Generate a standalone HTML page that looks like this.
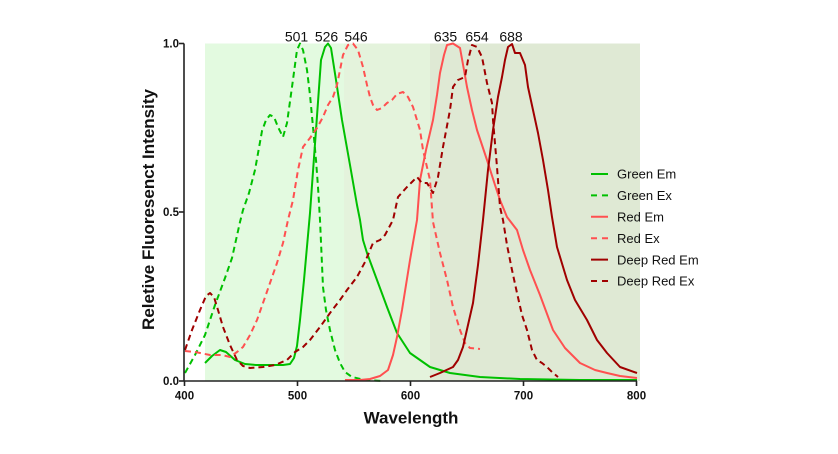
<!DOCTYPE html>
<html><head><meta charset="utf-8"><style>
html,body{margin:0;padding:0;background:#fff;}
svg{display:block;}
text{font-family:"Liberation Sans",Arial,sans-serif;fill:#111;}
</style></head><body>
<svg width="838" height="454" viewBox="0 0 838 454" xmlns="http://www.w3.org/2000/svg">
<!-- shaded regions -->
<rect x="205" y="43.5" width="139" height="337.5" fill="#e3fae0"/>
<rect x="344" y="43.5" width="86" height="337.5" fill="#e4f3dc"/>
<rect x="430" y="43.5" width="210" height="337.5" fill="#dfe9d4"/>

<g fill="none" stroke-width="2" stroke-linejoin="round" stroke-linecap="butt">
<!-- Green Em -->
<polyline stroke="#00c000" points="205,363 212,356 220,350 226,352 235,360 245,364 256,365 270,365 283,365 290,364 294,358 297,346 300,320 304,280 310,213 316,130 321,60 325,47 328,43.5 331,48 336,80 342,120 350,165 357,205 360,220 363,240 367,253 377,280 387,307 397,333 410,353 420,360 430,367 450,373 480,377 520,379 580,380 637,380"/>
<!-- Green Ex -->
<polyline stroke="#00c000" stroke-dasharray="6,4" points="185,373 195,355 205,335 215,305 225,278 232,258 240,222 243,210 249,193 255,170 262,131 266,120 270,115 274,117 278,127 283,137 287,123 292,87 297,50 300,43.5 303,50 307,70 310,95 313,127 316,160 318,187 320,220 323,287 326,310 330,330 335,350 340,363 345,372 352,377 365,380 383,381"/>
<!-- Red Em -->
<polyline stroke="#ff5050" points="345,380 360,380 370,379 380,376 388,370 393,355 397,337 402,310 410,260 417,220 420,180 426,150 433,120 437,95 440,73 444,55 447,45 453,43.5 460,48 464,70 467,87 472,110 477,130 482,145 487,160 495,185 500,200 507,217 517,230 523,250 530,270 540,295 553,330 565,348 580,363 595,370 607,373 620,376 637,378"/>
<!-- Red Ex -->
<polyline stroke="#ff5050" stroke-dasharray="6,4" points="185,351 195,352 210,355 222,355 230,357 237,352 243,347 250,335 257,320 263,303 270,283 277,263 283,243 288,220 293,200 298,170 303,147 310,138 317,128 323,117 328,105 333,97 337,85 340,70 343,55 348,45 353,43.5 358,50 363,67 367,85 370,97 373,105 377,110 382,108 387,103 392,100 397,94 403,92 408,97 413,107 420,130 423,150 430,180 433,222 440,253 447,280 453,307 460,330 465,343 470,348 480,349"/>
<!-- Deep Red Em -->
<polyline stroke="#a00000" points="430,377 440,373 453,367 458,360 463,347 468,325 473,303 478,265 483,220 488,170 493,130 498,97 502,77 505,60 508,47 512,44 515,53 520,53 525,65 528,87 533,110 538,133 543,160 548,190 552,217 557,247 567,280 575,300 587,320 597,340 607,353 620,367 637,373"/>
<!-- Deep Red Ex -->
<polyline stroke="#a00000" stroke-dasharray="6,4" points="185,350 192,330 200,310 206,296 210,293 214,297 218,310 223,327 230,345 237,360 243,366 250,368 263,367 275,365 287,360 295,352 303,347 310,340 320,327 330,313 340,300 347,290 357,277 365,262 373,243 380,240 385,235 393,220 398,197 407,187 412,182 417,177 422,183 427,183 433,193 438,177 443,147 450,110 453,87 458,80 465,77 468,60 472,45 477,47 482,57 487,83 492,103 493,120 497,167 500,207 503,220 507,245 512,270 517,293 522,315 527,330 532,350 537,360 542,363 547,367 552,372 558,377"/>
</g>

<!-- axes -->
<g stroke="#222" stroke-width="1.6" fill="none">
<line x1="184" y1="43.5" x2="184" y2="381"/>
<line x1="184" y1="381" x2="637" y2="381"/>
<line x1="179" y1="43.5" x2="184" y2="43.5"/>
<line x1="179" y1="212" x2="184" y2="212"/>
<line x1="179" y1="381" x2="184" y2="381"/>
<line x1="184.5" y1="381" x2="184.5" y2="386"/>
<line x1="297.5" y1="381" x2="297.5" y2="386"/>
<line x1="410.5" y1="381" x2="410.5" y2="386"/>
<line x1="523.5" y1="381" x2="523.5" y2="386"/>
<line x1="636.5" y1="381" x2="636.5" y2="386"/>
</g>

<!-- tick labels -->
<g font-size="11.5" font-weight="bold" text-anchor="end">
<text x="179" y="47.7">1.0</text>
<text x="179" y="216.2">0.5</text>
<text x="179" y="385.2">0.0</text>
</g>
<g font-size="11.5" font-weight="bold" text-anchor="middle">
<text x="184.5" y="399.5">400</text>
<text x="297.5" y="399.5">500</text>
<text x="410.5" y="399.5">600</text>
<text x="523.5" y="399.5">700</text>
<text x="636.5" y="399.5">800</text>
</g>

<text x="411" y="423.5" font-size="17" font-weight="bold" text-anchor="middle">Wavelength</text>
<text transform="translate(154,209.5) rotate(-90)" font-size="17" font-weight="bold" text-anchor="middle">Reletive Fluoresenct Intensity</text>

<!-- peak labels -->
<g font-size="14" text-anchor="middle">
<text x="296.5" y="41.5">501</text>
<text x="326.5" y="41.5">526</text>
<text x="356" y="41.5">546</text>
<text x="445.5" y="41.5">635</text>
<text x="477" y="41.5">654</text>
<text x="511" y="41.5">688</text>
</g>

<!-- legend -->
<g fill="none" stroke-width="2">
<line x1="591" y1="174" x2="608" y2="174" stroke="#00c000"/>
<line x1="591" y1="195.4" x2="608" y2="195.4" stroke="#00c000" stroke-dasharray="6,5"/>
<line x1="591" y1="216.8" x2="608" y2="216.8" stroke="#ff5050"/>
<line x1="591" y1="238.2" x2="608" y2="238.2" stroke="#ff5050" stroke-dasharray="6,5"/>
<line x1="591" y1="259.6" x2="608" y2="259.6" stroke="#a00000"/>
<line x1="591" y1="281" x2="608" y2="281" stroke="#a00000" stroke-dasharray="6,5"/>
</g>
<g font-size="13">
<text x="617" y="178.7">Green Em</text>
<text x="617" y="200.1">Green Ex</text>
<text x="617" y="221.5">Red Em</text>
<text x="617" y="242.9">Red Ex</text>
<text x="617" y="264.3">Deep Red Em</text>
<text x="617" y="285.7">Deep Red Ex</text>
</g>
</svg>
</body></html>
